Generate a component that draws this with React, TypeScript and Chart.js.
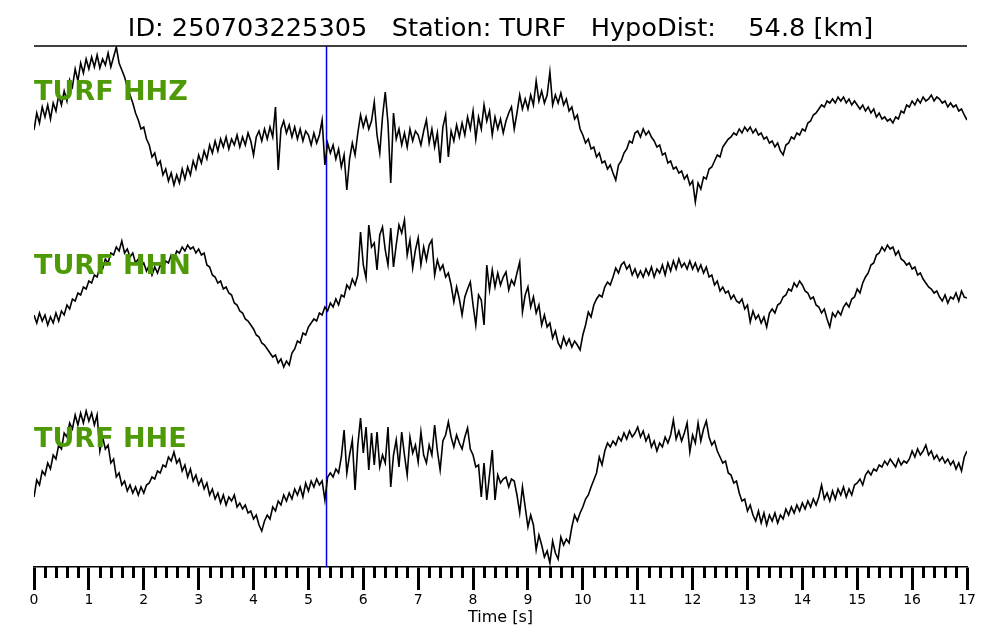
import React, { useEffect, useRef } from "react";
import { Chart, registerables } from "chart.js";

Chart.register(...registerables);

// ---------------- data ----------------
const DT = 0.05;
const T_MIN = 0;
const T_MAX = 17;
const P_PICK = 5.33; // blue pick line [s]
const TITLE = "ID: 250703225305   Station: TURF   HypoDist:    54.8 [km]";
const CHANNELS = ["TURF HHZ", "TURF HHN", "TURF HHE"];
const X_TITLE = "Time [s]";
const Y_RANGE = [0, 521];
const TRACE_OFFSETS = [442, 272, 82];

const HHZ = [
  -5, 12, 2, 18, 8, 20, 6, 22, 14, 30, 20, 34, 24, 45, 38, 56, 44, 62, 52, 66,
  56, 68, 58, 70, 57, 66, 60, 72, 58, 68, 78, 62, 55, 48, 38, 30, 22, 12, 5, -4,
  -2, -14, -20, -32, -28, -40, -36, -50, -44, -56, -48, -60, -50, -58, -44, -54, -42, -50, -36, -44,
  -30, -38, -26, -34, -20, -28, -16, -26, -14, -22, -12, -24, -14, -20, -10, -22, -12, -20, -8, -16,
  -30, -12, -6, -16, -4, -14, -2, -12, 18, -45, -4, 4, -8, 0, -12, -2, -14, -4, -16, -6,
  -10, -20, -8, -18, -10, 5, -40, -18, -28, -20, -34, -24, -42, -30, -65, -34, -18, -30, -8, 10,
  -2, 8, -4, 4, 23, -10, -28, 8, 33, 2, -58, 12, -14, -4, -20, -8, -22, -4, -16, -6,
  -10, -20, -6, 5, -18, -4, -22, -8, -38, -2, 10, -32, -6, -16, 0, -12, 2, -10, 8, -4,
  14, -14, 8, -4, 20, 4, 14, -10, 8, -4, 6, -8, 4, 12, 18, -4, 12, 30, 16, 26,
  16, 30, 20, 44, 24, 34, 22, 30, 53, 20, 30, 22, 32, 20, 26, 14, 18, 6, 10, -4,
  -10, -18, -14, -24, -22, -32, -28, -38, -36, -44, -40, -48, -55, -40, -36, -28, -24, -16, -18, -8,
  -6, -12, -4, -10, -6, -12, -16, -22, -20, -30, -28, -38, -36, -44, -42, -48, -46, -54, -50, -60,
  -56, -77, -58, -64, -52, -54, -44, -42, -36, -30, -32, -22, -18, -14, -12, -8, -10, -4, -8, -2,
  -6, -2, -8, -4, -10, -8, -14, -12, -18, -16, -22, -18, -26, -30, -20, -18, -12, -14, -8, -10,
  -4, -6, 2, 4, 10, 12, 16, 20, 18, 24, 22, 26, 22, 28, 24, 28, 22, 26, 20, 24,
  20, 16, 20, 14, 18, 12, 16, 8, 12, 6, 8, 4, 6, 2, 8, 6, 14, 12, 20, 18,
  24, 20, 26, 22, 28, 24, 26, 30, 24, 28, 26, 22, 24, 18, 22, 18, 20, 14, 16, 10,
  5,
];

const HHN = [
  -20, -28, -18, -26, -20, -30, -22, -28, -18, -26, -16, -20, -10, -14, -4, -6, 2, 0, 8, 6,
  14, 12, 20, 18, 28, 26, 36, 32, 42, 40, 48, 44, 54, 42, 46, 38, 42, 32, 36, 28,
  32, 24, 30, 20, 28, 22, 30, 26, 34, 32, 40, 36, 44, 42, 48, 44, 50, 46, 48, 42,
  46, 40, 42, 30, 28, 20, 18, 12, 14, 6, 8, 2, 0, -8, -10, -16, -18, -24, -26, -30,
  -34, -40, -42, -48, -50, -54, -58, -62, -60, -68, -64, -72, -66, -70, -58, -54, -46, -48, -38, -40,
  -32, -28, -24, -26, -18, -20, -12, -16, -8, -12, -4, -10, 0, -2, 10, 6, 16, 10, 20, 63,
  30, 17, 70, 48, 52, 25, 60, 68, 45, 30, 67, 28, 50, 70, 62, 75, 40, 55, 27, 45,
  57, 30, 48, 35, 50, 55, 20, 35, 25, 30, 18, 22, 10, -7, 8, -4, -20, -2, 6, 13,
  -10, -30, 0, -5, -30, 30, 5, 25, 8, 22, 10, 18, 23, 5, 15, 10, 22, 33, -17, 0,
  8, -12, -2, -18, -10, -30, -20, -32, -28, -43, -36, -48, -53, -42, -50, -44, -52, -46, -50, -55,
  -40, -30, -17, -22, -10, -4, 0, -2, 8, 13, 10, 18, 27, 22, 30, 33, 26, 30, 20, 26,
  18, 24, 18, 26, 20, 28, 18, 26, 22, 30, 20, 32, 24, 34, 26, 36, 28, 32, 26, 34,
  26, 32, 24, 30, 22, 28, 18, 20, 10, 14, 4, 8, 2, 4, -4, 0, -6, -8, -4, -14,
  -10, -27, -16, -24, -20, -28, -22, -32, -18, -14, -18, -10, -8, -2, 0, 6, 4, 12, 8, 14,
  10, 4, 2, -4, -2, -10, -12, -18, -14, -24, -32, -18, -22, -16, -20, -12, -8, -12, -4, -2,
  6, 2, 12, 18, 22, 30, 32, 40, 42, 48, 44, 50, 46, 48, 40, 44, 36, 34, 30, 32,
  26, 28, 20, 22, 16, 12, 8, 6, 2, 4, -2, -6, 0, -8, -2, -4, 2, -6, 4, -2,
  -3,
];

const HHE = [
  -12, 5, 0, 14, 10, 22, 16, 30, 26, 40, 36, 52, 48, 62, 56, 70, 60, 72, 62, 74,
  64, 72, 60, 70, 34, 48, 36, 40, 22, 26, 8, 12, 0, 4, -6, 0, -8, -2, -10, -2,
  -8, 0, 2, 8, 6, 14, 12, 20, 18, 28, 24, 33, 22, 26, 14, 20, 8, 16, 4, 10,
  0, 6, -4, 2, -10, -4, -14, -8, -18, -10, -20, -12, -16, -10, -22, -18, -24, -20, -28, -26,
  -34, -30, -40, -46, -36, -30, -34, -22, -26, -16, -20, -10, -16, -8, -14, -4, -10, -2, -12, 2,
  -6, 4, -2, 6, 0, 4, -15, 8, 12, 8, 16, 12, 28, 55, 12, 30, 45, -5, 40, 67,
  32, 58, 15, 52, 20, 53, 18, 30, 22, 58, -2, 30, 45, 18, 53, 30, 10, 48, 32, 40,
  23, 53, 30, 22, 40, 30, 60, 34, 15, 44, 50, 63, 48, 38, 50, 42, 36, 48, 57, 36,
  30, 18, 20, -12, 22, -15, 10, 35, -15, 10, 2, 6, 8, -2, 6, 4, -10, -28, -2, -22,
  -42, -30, -40, -65, -50, -60, -72, -66, -78, -56, -68, -74, -52, -60, -54, -58, -42, -30, -36, -28,
  -22, -14, -10, -2, 5, 12, 28, 20, 34, 42, 38, 44, 40, 48, 44, 52, 46, 54, 48, 52,
  58, 48, 54, 44, 50, 38, 44, 34, 42, 38, 48, 42, 50, 65, 46, 54, 44, 52, 62, 33,
  50, 42, 62, 44, 56, 64, 48, 40, 44, 34, 28, 22, 24, 12, 10, 2, 4, -8, -16, -14,
  -26, -20, -30, -36, -26, -38, -28, -40, -30, -36, -28, -38, -30, -34, -24, -30, -22, -28, -20, -26,
  -18, -24, -16, -22, -14, -20, -12, 0, -14, -8, -16, -6, -14, -4, -10, -2, -12, -4, -10, 0,
  2, 6, 0, 10, 14, 10, 16, 14, 20, 18, 24, 20, 26, 22, 18, 26, 20, 24, 22, 26,
  34, 28, 36, 30, 34, 40, 30, 34, 26, 30, 24, 28, 22, 26, 20, 24, 16, 22, 14, 28,
  34,
];

const TRACES = [HHZ, HHN, HHE];

// ---------------- styles ----------------
const FONT = "DejaVu Sans";
const LABEL_COLOR = "#4e9a06";

const overlayPlugin = {
  id: "seismoOverlay",
  afterDatasetsDraw(chart: any) {
    const { ctx, chartArea } = chart;
    const h = chartArea.bottom - chartArea.top;
    ctx.save();
    ctx.fillStyle = LABEL_COLOR;
    ctx.font = `bold 27px "${FONT}"`;
    ctx.textAlign = "left";
    ctx.textBaseline = "middle";
    CHANNELS.forEach((name, k) => {
      ctx.fillText(name, chartArea.left, chartArea.top + (k + 0.27) * (h / 3));
    });
    ctx.restore();
  },
  afterDraw(chart: any) {
    const { ctx, chartArea, scales } = chart;
    const xs = scales.x;
    ctx.save();
    // top rule
    ctx.strokeStyle = "#000";
    ctx.lineWidth = 1.5;
    ctx.beginPath();
    ctx.moveTo(chartArea.left, chartArea.top);
    ctx.lineTo(chartArea.right, chartArea.top);
    ctx.stroke();
    // minor ticks every 0.2 s
    ctx.lineWidth = 3;
    ctx.beginPath();
    for (let i = 0; i <= T_MAX * 5; i++) {
      if (i % 5 === 0) continue;
      const px = Math.round(xs.getPixelForValue(i * 0.2)) + 0.5;
      ctx.moveTo(px, chartArea.bottom);
      ctx.lineTo(px, chartArea.bottom + 11);
    }
    ctx.stroke();
    ctx.restore();
  },
};

export default function App() {
  const ref = useRef<HTMLCanvasElement | null>(null);

  useEffect(() => {
    if (!ref.current) return;
    const traceSets = TRACES.map((vals, k) => ({
      label: CHANNELS[k],
      data: vals.map((v, i) => ({ x: i * DT, y: TRACE_OFFSETS[k] + v })),
      borderColor: "#000",
      borderWidth: 1.6,
      pointRadius: 0,
      tension: 0,
      fill: false,
    }));
    const pickSet = {
      label: "P",
      data: [
        { x: P_PICK, y: Y_RANGE[0] },
        { x: P_PICK, y: Y_RANGE[1] },
      ],
      borderColor: "#0000ee",
      borderWidth: 1.5,
      pointRadius: 0,
      fill: false,
    };
    const chart = new Chart(ref.current, {
      type: "line",
      data: { datasets: [...traceSets, pickSet] as any },
      options: {
        animation: false,
        responsive: false,
        devicePixelRatio: 1,
        layout: { padding: { left: 34, right: 33, top: 0, bottom: 0 } },
        plugins: {
          legend: { display: false },
          tooltip: { enabled: false },
          title: {
            display: true,
            text: TITLE,
            color: "#000",
            font: { family: FONT, size: 25.6, weight: "normal" },
            padding: { top: 14, bottom: 1.28 },
          },
        },
        scales: {
          x: {
            type: "linear",
            position: "bottom",
            min: T_MIN,
            max: T_MAX,
            ticks: {
              stepSize: 1,
              autoSkip: false,
              maxRotation: 0,
              color: "#000",
              padding: 2,
              font: { family: FONT, size: 14 },
            },
            grid: {
              drawOnChartArea: false,
              tickLength: 23,
              tickWidth: 3,
              tickColor: "#000",
            },
            border: { display: true, color: "#000", width: 1.5 },
            title: {
              display: true,
              text: X_TITLE,
              color: "#000",
              font: { family: FONT, size: 16 },
              padding: { top: 0, bottom: 13 },
            },
            afterFit: (s: any) => {
              s.height = 73;
            },
          },
          y: {
            display: false,
            min: Y_RANGE[0],
            max: Y_RANGE[1],
          },
        },
      } as any,
      plugins: [overlayPlugin],
    });
    return () => chart.destroy();
  }, []);

  return (
    <div style={{ position: "absolute", left: 0, top: 0, width: 1000, height: 640, background: "#fff" }}>
      <canvas ref={ref} width={1000} height={640} />
    </div>
  );
}
